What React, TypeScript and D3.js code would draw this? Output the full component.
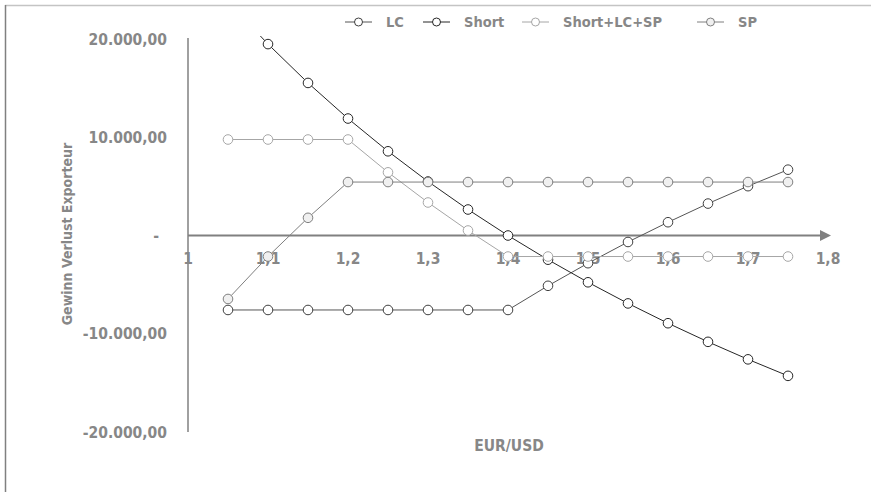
import React from "react";
import * as d3 from "d3";

const xValues = [1.05, 1.1, 1.15, 1.2, 1.25, 1.3, 1.35, 1.4, 1.45, 1.5, 1.55, 1.6, 1.65, 1.7, 1.75];
const lcValues = [-7580, -7580, -7580, -7580, -7580, -7580, -7580, -7580, -5120, -2820, -660, 1350, 3250, 5020, 6700];
const shortValues = [23810, 19481, 15528, 11905, 8571, 5495, 2646, 0, -2463, -4762, -6912, -8929, -10823, -12605, -14286];
const comboValues = [9770, 9770, 9770, 9770, 6430, 3360, 510, -2140, -2140, -2140, -2140, -2140, -2140, -2140, -2140];
const spValues = [-6460, -2140, 1800, 5440, 5440, 5440, 5440, 5440, 5440, 5440, 5440, 5440, 5440, 5440, 5440];

const seriesNames = ["LC", "Short", "Short+LC+SP", "SP"];
const xTicks = [1, 1.1, 1.2, 1.3, 1.4, 1.5, 1.6, 1.7, 1.8];
const yTicks = [20000, 10000, 0, -10000, -20000];
const yTitle = "Gewinn Verlust Exporteur";
const xTitle = "EUR/USD";

const styles = [
  { line: "#555555", stroke: "#3f3f3f", fill: "#ffffff" },
  { line: "#262626", stroke: "#262626", fill: "#ffffff" },
  { line: "#a6a6a6", stroke: "#a6a6a6", fill: "#ffffff" },
  { line: "#7f7f7f", stroke: "#7f7f7f", fill: "#f0f0f0" },
];

const FONT = "'DejaVu Sans Condensed', 'Liberation Sans Narrow', sans-serif";
const TEXT = "#878787";

const fmtY = (v: number) => {
  if (v === 0) return "-";
  const s = d3.format(",.2f")(v);
  return s.replace(/,/g, "#").replace(/\./g, ",").replace(/#/g, ".").replace("−", "-");
};
const fmtX = (v: number) => String(+v.toFixed(1)).replace(".", ",");

export default function App() {
  const W = 871, H = 492;
  const x = d3.scaleLinear().domain([1, 1.8]).range([188, 828]);
  const y = d3.scaleLinear().domain([-20000, 20000]).range([432, 39]);
  const all = [lcValues, shortValues, comboValues, spValues];
  const line = d3.line<number>().x((_, i) => x(xValues[i])).y((d) => y(d));

  const legendX = [345, 423, 522, 697];

  return (
    <svg width={W} height={H} style={{ position: "absolute", left: 0, top: 0, background: "#fff" }}>
      <defs>
        <clipPath id="plot">
          <rect x={180} y={36} width={660} height={400} />
        </clipPath>
      </defs>
      {/* frame */}
      <line x1={5} y1={5.5} x2={W} y2={5.5} stroke="#c4c4c4" strokeWidth={1.5} />
      <line x1={5.5} y1={5} x2={5.5} y2={H} stroke="#808080" strokeWidth={1.5} />

      {/* y axis */}
      <line x1={x(1)} y1={y(20000) - 1} x2={x(1)} y2={y(-20000)} stroke="#808080" strokeWidth={1.5} />
      {yTicks.map((t) => (
        <text key={t} x={t === 0 ? 159 : 167} y={y(t)} dy="0.36em" textAnchor="end"
          fontFamily={FONT} fontWeight="bold" fontSize={15.5} fill={TEXT}>
          {fmtY(t)}
        </text>
      ))}
      {/* x axis */}
      <line x1={x(1)} y1={y(0)} x2={822} y2={y(0)} stroke="#808080" strokeWidth={2} />
      <path d={`M820,${y(0) - 5.5} L831,${y(0)} L820,${y(0) + 5.5} Z`} fill="#808080" />
      {xTicks.map((t) => (
        <text key={t} x={x(t)} y={y(0) + 23} dy="0.36em" textAnchor="middle"
          fontFamily={FONT} fontWeight="bold" fontSize={15.5} fill={TEXT}>
          {fmtX(t)}
        </text>
      ))}

      {/* titles */}
      <text transform={`translate(67,234) rotate(-90)`} dy="0.36em" textAnchor="middle"
        fontFamily={FONT} fontWeight="bold" fontSize={14} fill={TEXT}>{yTitle}</text>
      <text x={509} y={445} dy="0.36em" textAnchor="middle"
        fontFamily={FONT} fontWeight="bold" fontSize={15.5} fill={TEXT}>{xTitle}</text>

      {/* series */}
      <g clipPath="url(#plot)">
        {all.map((vals, si) => (
          <g key={si}>
            <path d={line(vals) || ""} fill="none" stroke={styles[si].line} strokeWidth={1} />
            {vals.map((v, i) => (
              <circle key={i} cx={x(xValues[i])} cy={y(v)} r={4.8}
                fill={styles[si].fill} stroke={styles[si].stroke} strokeWidth={1} />
            ))}
          </g>
        ))}
      </g>

      {/* legend */}
      {seriesNames.map((n, i) => (
        <g key={n} transform={`translate(${legendX[i]},22)`}>
          <line x1={0} y1={0} x2={27} y2={0} stroke={styles[i].line} strokeWidth={1} />
          <circle cx={13.5} cy={0} r={4} fill={styles[i].fill} stroke={styles[i].stroke} strokeWidth={1} />
          <text x={41} y={0} dy="0.36em" fontFamily={FONT} fontWeight="bold" fontSize={14.5} fill={TEXT}>{n}</text>
        </g>
      ))}
    </svg>
  );
}
